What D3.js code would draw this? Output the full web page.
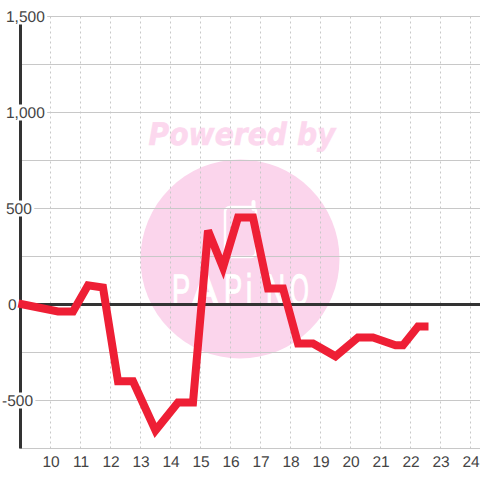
<!DOCTYPE html>
<html><head><meta charset="utf-8">
<script src="https://cdn.jsdelivr.net/npm/d3@7/dist/d3.min.js"></script>
<style>html,body{margin:0;padding:0;background:#fff}svg{display:block}text{text-rendering:geometricPrecision}</style>
</head><body><svg id="c" width="480" height="480"></svg>
<script>
const hours=[8.93,10.25,10.75,11.25,11.75,12.25,12.75,13.5,14.25,14.75,15.25,15.75,16.25,16.75,17.25,17.75,18.25,18.75,19.5,20.25,20.75,21.5,21.75,22.25,22.6];
const values=[5,-36,-36,100,88,-400,-400,-656,-510,-510,385,193,453,453,83,83,-203,-203,-270,-172,-172,-212,-212,-115,-115];
const xTicks=[10,11,12,13,14,15,16,17,18,19,20,21,22,23,24];
const yMajor=[1500,1000,500,-500];
const yMinor=[1250,750,250,-250,-750];
const logoLetters=["P","A","P","i","N","O"];
const logoLeft=[172,192,224,246,266,290];
const logoScale=[0.62,0.9,0.62,0.62,0.6,0.55];
const svg=d3.select("#c");
const x=d3.scaleLinear().domain([9,24]).range([20.5,470.5]);
const y=d3.scaleLinear().domain([-750,1500]).range([448.5,16.5]);
const font="'Liberation Sans',Arial,sans-serif";
// watermark
const wm=svg.append("g");
wm.append("circle").attr("cx",240).attr("cy",259).attr("r",99.5).attr("fill","#fbd5ec");
wm.append("text").text("Powered by").attr("x",242).attr("y",145).attr("text-anchor","middle").attr("textLength",187).attr("lengthAdjust","spacingAndGlyphs")
 .attr("font-family","'DejaVu Sans'").attr("font-weight","bold").attr("font-style","italic").attr("font-size",31).attr("fill","#fcd8ee").attr("stroke","#fcd8ee").attr("stroke-width",0.6);
wm.append("rect").attr("x",225).attr("y",207).attr("width",31).attr("height",50).attr("rx",5).attr("fill","none").attr("stroke","#fff").attr("stroke-width",2.5);
wm.append("path").attr("d","M253.5 209V202").attr("stroke","#fff").attr("stroke-width",4).attr("stroke-linecap","round");
wm.selectAll(".l").data(logoLetters).join("text").text(d=>d)
 .attr("transform",(d,i)=>`translate(${logoLeft[i]},305) scale(${logoScale[i]},1)`)
 .attr("font-family",font).attr("font-size",44).attr("fill","#fff").attr("stroke","#fff").attr("stroke-width",1.2);
// grid
const grid=svg.append("g");
grid.selectAll(".v").data(xTicks).join("line").attr("x1",d=>x(d)).attr("x2",d=>x(d)).attr("y1",y(1500)).attr("y2",y(-750))
 .attr("stroke","#c8c8c8").attr("stroke-dasharray","2 3");
grid.selectAll(".h").data(yMajor.concat(yMinor)).join("line").attr("x1",20).attr("x2",480).attr("y1",d=>y(d)).attr("y2",d=>y(d))
 .attr("stroke","#c8c8c8");
// axes
svg.append("line").attr("x1",20.5).attr("x2",20.5).attr("y1",y(1500)).attr("y2",y(-750)).attr("stroke","#333").attr("stroke-width",3);
svg.append("line").attr("x1",20).attr("x2",480).attr("y1",y(0)).attr("y2",y(0)).attr("stroke","#333").attr("stroke-width",3);
// y labels
const ly=svg.append("g").attr("font-family",font).attr("font-size",15.5).attr("fill","#444");
const fmt=d3.format(",");
ly.selectAll("g").data(yMajor.concat([0])).join("g").each(function(d){
 const g=d3.select(this);
 const lx=d<0?2:(d===0?8:6);
 const t=g.append("text").text(d===0?"0":fmt(d).replace("−","-")).attr("y",y(d)+5.5).attr("x",lx);
 const w=t.node().getBBox().width;
 g.insert("rect","text").attr("x",0).attr("y",y(d)-8).attr("width",lx+w+2).attr("height",16).attr("fill","#fff");
});
// x labels
svg.append("g").attr("font-family",font).attr("font-size",15.5).attr("fill","#444").attr("text-anchor","middle")
 .selectAll("text").data(xTicks).join("text").attr("x",d=>x(d)+0.5).attr("y",466.5).text(d=>d);
// series
const line=d3.line().x((d,i)=>x(hours[i])).y(d=>y(d));
svg.append("path").attr("d",line(values)).attr("fill","none").attr("stroke","#ee1f35").attr("stroke-width",8).attr("stroke-linejoin","miter");
</script></body></html>
